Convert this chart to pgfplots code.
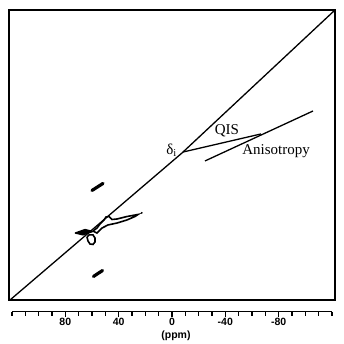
\documentclass[border=0pt]{standalone}
\usepackage{fontspec}
\setmainfont{Liberation Serif}
\newfontfamily\sansb{Liberation Sans}
\usepackage{pgfplots}
\pgfplotsset{compat=1.18}
\begin{document}
\begin{tikzpicture}[x=1pt,y=1pt]
\useasboundingbox (0,0) rectangle (344,343);
% main 2D spectrum frame (F2 horizontal, F1 vertical, ppm)
\begin{axis}[at={(9pt,43pt)}, anchor=south west, width=326pt, height=290pt, scale only axis,
  xmin=-122.25, xmax=122.25, x dir=reverse,
  ymin=-122.3, ymax=121.5, y dir=reverse,
  ticks=none, axis line style={line width=1.5pt}, clip=false]
% diagonal
\addplot[black, line width=1.3pt] coordinates {(121.5,121.5) (-7.5,-2.1) (-121.5,-121.5)};
% QIS line
\addplot[black, line width=1.3pt] coordinates {(-8.25,-2.9) (-66.75,-18.1)};
% Anisotropy line
\addplot[black, line width=1.3pt] coordinates {(-24.75,4.6) (-105.75,-37.4)};
% contours: upper and lower spinning side peaks
\addplot[black, line width=3.2pt, line cap=round] coordinates {(60,29.4) (51.75,23.5)};
\addplot[black, line width=3.2pt, line cap=round] coordinates {(58.9,101.7) (52.1,96.7)};
% arrowhead contour
\addplot[black, fill=black, line width=1.2pt] coordinates {(72.75,65.2) (65.25,62.2) (59.25,63.9) (66.75,66.8) (72.75,65.2)};
% lower loop
\addplot[black, line width=1.6pt] coordinates {(63.75,68.5) (62.25,66.8) (59.25,66.8) (57.75,69.4) (57.75,72.7) (59.25,74.8) (61.5,74.4) (63,71.9) (63.75,68.5)};
% neck and tail
\addplot[black, line width=1.6pt] coordinates {(59.25,63.5) (56.25,61.0) (54,57.6) (51,54.2) (49.5,51.7) (47.25,51.3) (45,53.8) (41.25,53.4) (33.75,51.3) (25.5,49.6) (27.75,51.3) (33.75,54.2) (41.25,56.8) (48,58.4) (52.5,61.0) (56.25,65.2) (59.25,63.5)};
\addplot[black, only marks, mark=*, mark size=0.7pt] coordinates {(22.7,48.2)};
% labels
\node[font=\fontsize{15}{15}\selectfont] at (axis cs:0.25,-4.6) {δ\textsubscript{i}};
\node[font=\fontsize{15}{15}\selectfont] at (axis cs:-41.25,-20.6) {QIS};
\node[font=\fontsize{15}{15}\selectfont] at (axis cs:-78,-3.8) {Anisotropy};
\end{axis}
% ppm scale
\begin{axis}[at={(12pt,31.3pt)}, anchor=south west, width=320pt, height=1pt, scale only axis,
  xmin=-120, xmax=120, x dir=reverse, ymin=0, ymax=1,
  axis x line=bottom, hide y axis, x axis line style={-, line width=1.2pt},
  xtick={80,40,0,-40,-80}, xticklabels={80,40,0,-40,-80},
  minor xtick={-120,-110,...,120},
  tick align=outside, major tick length=5.5pt, minor tick length=4pt,
  every tick/.style={black, line width=1.1pt},
  xticklabel style={font=\sansb\bfseries\fontsize{10.5}{10.5}\selectfont, inner sep=1pt},
  xlabel={(ppm)}, xlabel style={font=\sansb\bfseries\fontsize{10.5}{10.5}\selectfont, xshift=4pt, yshift=-2.5pt, inner sep=1pt}]
\addplot[draw=none] coordinates {(0,0)};
\end{axis}
\end{tikzpicture}
\end{document}
